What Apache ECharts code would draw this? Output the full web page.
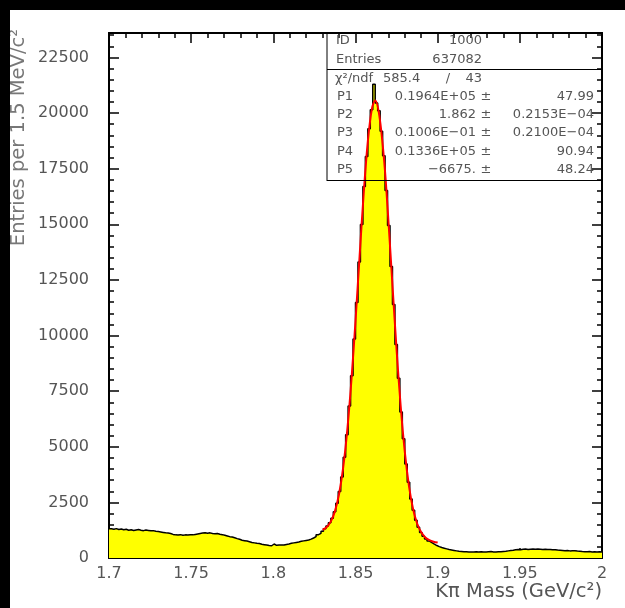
<!DOCTYPE html>
<html><head><meta charset="utf-8">
<script src="https://cdn.jsdelivr.net/npm/echarts@6/dist/echarts.min.js"></script>
<style>html,body{margin:0;padding:0;background:#fff}#c{width:625px;height:608px}</style>
</head><body><div id="c"></div>
<script>
// Histogram definition: 200 bins of 1.5 MeV from 1.7 to 2.0 GeV
const binStart = 1.7;
const binWidth = 0.0015;
const counts = [
 1310,1290,1320,1280,1300,1270,1290,
 1250,1270,1240,1260,1280,1250,1230,1260,1240,1220,1230,1200,
 1190,1170,1150,1130,1120,1100,
 1060,1040,1030,1050,1020,1040,1030,1050,1040,
 1060,1080,1100,1120,1130,1110,1130,1100,1090,1100,1070,1050,
 1020,990,960,940,910,
 870,840,800,780,760,730,
 700,680,660,650,620,600,
 580,560,550,
 630,570,580,590,580,
 610,630,660,680,700,
 720,750,770,790,810,
 850,900,960,1050,
 1110,1200,1320,
 1440,1580,1790,2080,2460,2990,3640,4530,5540,6830,8190,9850,11480,13310,14990,16700,18050,19300,20150,21300,
 20450,20100,19180,18080,16520,14950,13100,11400,9600,8080,6560,5360,4230,3400,2650,2150,1700,1380,1150,980,850,760,690,620,560,510,
 470,440,410,380,360,340,320,300,290,280,
 280,270,275,265,280,270,285,275,270,280,290,275,270,285,280,290,300,
 320,340,350,370,380,375,
 390,400,385,395,400,390,405,395,385,390,380,385,370,375,360,350,
 340,330,335,320,330,325,310,300,
 290,285,280,290,275,280,270,285,275
];
// Fit curve
const fitX = [1.830,1.8325,1.835,1.8375,1.840,1.8425,1.845,1.8475,1.850,1.8525,1.855,1.8575,1.860,1.862,1.8645,1.8675,1.870,1.8725,1.875,1.8775,1.880,1.8825,1.885,1.8875,1.890,1.8925,1.895,1.8975,1.900];
const fitY = [1270,1395,1647,2108,2876,4062,5754,7979,10654,13571,16395,18731,20200,20571,19890,17809,15194,12252,9366,6820,4772,3258,2217,1551,1153,926,802,734,694];

const xMin = 1.7, xMax = 2.0, xStep = 0.05;
const yMin = 0, yMax = 23600, yStep = 2500, yMinorStep = 500;

const statHead = [['ID','1000'],['Entries','637082']];
const chiNdf = ['585.4','43'];
const parNames = ['P1','P2','P3','P4','P5'];
const parValues = ['0.1964E+05','1.862','0.1006E\u221201','0.1336E+05','\u22126675.'];
const parErrors = ['47.99','0.2153E\u221204','0.2100E\u221204','90.94','48.24'];

const histData = [];
for (let i = 0; i < counts.length; i++) {
  const lo = binStart + i * binWidth, hi = binStart + (i + 1) * binWidth;
  histData.push([lo, counts[i]], [hi, counts[i]]);
}
const fitData = fitX.map((x, i) => [x, fitY[i]]);

const FONT = '"DejaVu Sans", Verdana, sans-serif';
const labelColor = '#555';
const axisLineStyle = {color: '#000', width: 2};

function xAxisDef(pos, labels) {
  return {
    type: 'value', position: pos, min: xMin, max: xMax, interval: xStep,
    axisLine: {show: true, onZero: false, lineStyle: axisLineStyle},
    axisTick: {show: true, inside: true, length: 10, lineStyle: {color: '#000', width: 1.5}},
    minorTick: {show: true, splitNumber: 5, length: 5, lineStyle: {color: '#000', width: 1.5}},
    splitLine: {show: false},
    axisLabel: labels ? {show: true, color: labelColor, fontSize: 16, fontFamily: FONT, margin: 8,
      formatter: v => String(+(+v).toFixed(2))} : {show: false}
  };
}
function yAxisDef(pos, step, len, labels) {
  return {
    type: 'value', position: pos, min: yMin, max: yMax, interval: step, offset: 0,
    axisLine: {show: true, onZero: false, lineStyle: axisLineStyle},
    axisTick: {show: true, inside: true, length: len, lineStyle: {color: '#000', width: 1.5}},
    splitLine: {show: false},
    axisLabel: labels ? {show: true, color: labelColor, fontSize: 16, fontFamily: FONT, margin: 20, showMaxLabel: false,
      formatter: v => String(Math.round(v))} : {show: false}
  };
}

const graphics = [
  {type: 'rect', shape: {x: 0, y: 0, width: 625, height: 10}, style: {fill: '#000'}, z: 100},
  {type: 'rect', shape: {x: 0, y: 0, width: 10, height: 608}, style: {fill: '#000'}, z: 100},
  {type: 'text', x: 19, y: 29, rotation: Math.PI / 2,
   style: {text: 'Entries per 1.5 MeV/c\u00b2', font: '19.5px ' + FONT, fill: '#777', align: 'right', verticalAlign: 'middle'}},
  {type: 'text', x: 602, y: 592,
   style: {text: 'K\u03c0 Mass (GeV/c\u00b2)', font: '19.5px ' + FONT, fill: '#555', align: 'right', verticalAlign: 'middle'}},
  // stats box lines
  {type: 'line', shape: {x1: 327, y1: 33, x2: 327, y2: 181}, style: {stroke: '#000', lineWidth: 1}, z: 50},
  {type: 'line', shape: {x1: 327, y1: 69.5, x2: 602, y2: 69.5}, style: {stroke: '#000', lineWidth: 1}, z: 50},
  {type: 'line', shape: {x1: 327, y1: 180.5, x2: 602, y2: 180.5}, style: {stroke: '#000', lineWidth: 1}, z: 50}
];
const sFont = '13px ' + FONT, sColor = '#555';
function txt(t, x, y, align) {
  graphics.push({type: 'text', x: x, y: y, z: 60,
    style: {text: t, font: sFont, fill: sColor, align: align, verticalAlign: 'middle'}});
}
const headY = [41, 60];
statHead.forEach((r, i) => { txt(r[0], 336, headY[i], 'left'); txt(r[1], 482, headY[i], 'right'); });
txt('\u03c7\u00b2/ndf', 335, 79, 'left');
txt(chiNdf[0], 383, 79, 'left');
txt('/', 448, 79, 'center');
txt(chiNdf[1], 482, 79, 'right');
const rowY = [97, 115, 133, 152, 170];
parNames.forEach((n, i) => {
  txt(n, 337, rowY[i], 'left');
  txt(parValues[i], 476, rowY[i], 'right');
  txt('\u00b1', 486, rowY[i], 'center');
  txt(parErrors[i], 594, rowY[i], 'right');
});

const chart = echarts.init(document.getElementById('c'), null, {renderer: 'canvas'});
chart.setOption({
  animation: false,
  backgroundColor: '#fff',
  grid: {left: 109, right: 23, top: 33, bottom: 50, containLabel: false},
  xAxis: [xAxisDef('bottom', true), xAxisDef('top', false)],
  yAxis: [
    yAxisDef('left', yStep, 10, true), yAxisDef('left', yMinorStep, 5, false),
    yAxisDef('right', yStep, 10, false), yAxisDef('right', yMinorStep, 5, false)
  ],
  series: [
    {type: 'line', data: histData, xAxisIndex: 0, yAxisIndex: 0, showSymbol: false, symbol: 'none',
     lineStyle: {color: '#000', width: 1.5}, areaStyle: {color: '#ffff00', opacity: 1, origin: 'start'}, z: 2},
    {type: 'line', data: fitData, xAxisIndex: 0, yAxisIndex: 0, showSymbol: false, symbol: 'none', smooth: 0.35,
     lineStyle: {color: '#ff0000', width: 2}, z: 3}
  ],
  graphic: graphics
});
</script></body></html>
